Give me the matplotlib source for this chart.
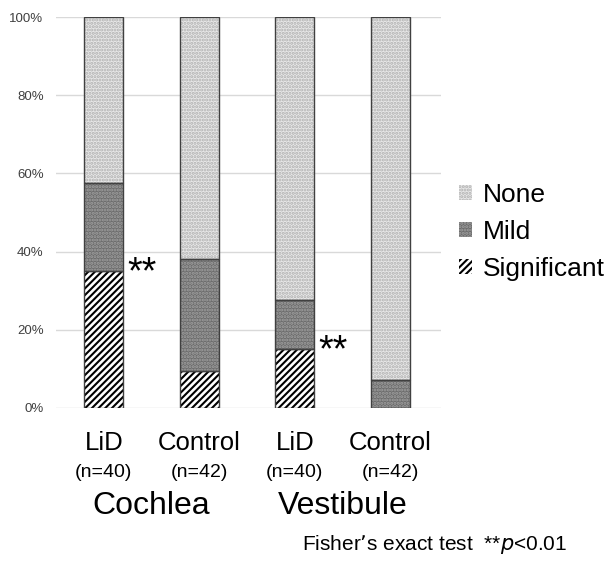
import matplotlib
matplotlib.use("Agg")
import matplotlib.pyplot as plt
import matplotlib.patches as mpatches
import numpy as np

plt.rcParams['font.family'] = ['Liberation Sans', 'DejaVu Sans']
plt.rcParams['hatch.linewidth'] = 1.5

groups = ["LiD", "Control", "LiD", "Control"]
ns = ["(n=40)", "(n=42)", "(n=40)", "(n=42)"]
regions = ["Cochlea", "Vestibule"]
significant = [35.0, 9.5, 15.0, 0.0]
mild = [22.5, 28.6, 12.5, 7.1]
none = [42.5, 61.9, 72.5, 92.9]
sig_marks = ["**", "", "**", ""]
yticks = [0, 20, 40, 60, 80, 100]
ytick_labels = ["0%", "20%", "40%", "60%", "80%", "100%"]

fig = plt.figure(figsize=(6.13, 5.62), dpi=100)
ax = fig.add_axes([56/613, 1-408/562, (441-56)/613, (408-17)/562])

x = np.arange(len(groups))
w = 0.41
edge = '#404040'

styles = [
    ("Significant", significant, dict(facecolor='white', hatch='/////', hatch_ec='black')),
    ("Mild", mild, dict(facecolor='#6c6c6c', hatch='.....', hatch_ec='#a0a0a0')),
    ("None", none, dict(facecolor='#e8e8e8', hatch='.....', hatch_ec='#b0b0b0')),
]
bottom = np.zeros(len(groups))
handles = {}
for name, vals, st in styles:
    vals = np.array(vals)
    ax.bar(x, vals, w, bottom=bottom, facecolor=st['facecolor'], hatch=st['hatch'],
           edgecolor=st['hatch_ec'], linewidth=0, zorder=2)
    ax.bar(x, vals, w, bottom=bottom, fill=False, edgecolor=edge, linewidth=1.0, zorder=3)
    handles[name] = mpatches.Patch(facecolor=st['facecolor'], hatch=st['hatch'],
                                   edgecolor=st['hatch_ec'], linewidth=0)
    bottom = bottom + vals

for i, m in enumerate(sig_marks):
    if m:
        ax.text(x[i] + w/2 + 0.04, significant[i] - 0.5, m, fontsize=27,
                ha='left', va='center', zorder=4)

ax.set_xlim(-0.5, 3.53)
ax.set_ylim(0, 100)
ax.set_yticks(yticks)
ax.set_yticklabels(ytick_labels, fontsize=9.5, color='#404040')
ax.set_xticks([])
ax.tick_params(axis='y', length=0, pad=9)
for s in ax.spines.values():
    s.set_visible(False)
ax.yaxis.grid(True, color='#d9d9d9', linewidth=1, zorder=0)
ax.set_axisbelow(True)

tr = ax.get_xaxis_transform()
for i in range(len(groups)):
    ax.text(x[i], -0.09, groups[i], transform=tr, ha='center', va='center', fontsize=18.5)
    ax.text(x[i], -0.165, ns[i], transform=tr, ha='center', va='center', fontsize=14)
for j, r in enumerate(regions):
    ax.text(2*j + 0.5, -0.25, r, transform=tr, ha='center', va='center', fontsize=23)

fig.text(567/613, 1-545/562, "Fisher\u2019s exact test  **$\\it{p}$<0.01", ha='right', va='center',
         fontsize=15)

leg = fig.legend([handles['None'], handles['Mild'], handles['Significant']],
                 ["None", "Mild", "Significant"], loc='center left',
                 bbox_to_anchor=(459/613, 1-232/562), frameon=False, fontsize=19,
                 handlelength=0.5, handleheight=0.5, handletextpad=0.4, labelspacing=0.5,
                 borderaxespad=0, borderpad=0)

fig.savefig("out.png", dpi=100)
